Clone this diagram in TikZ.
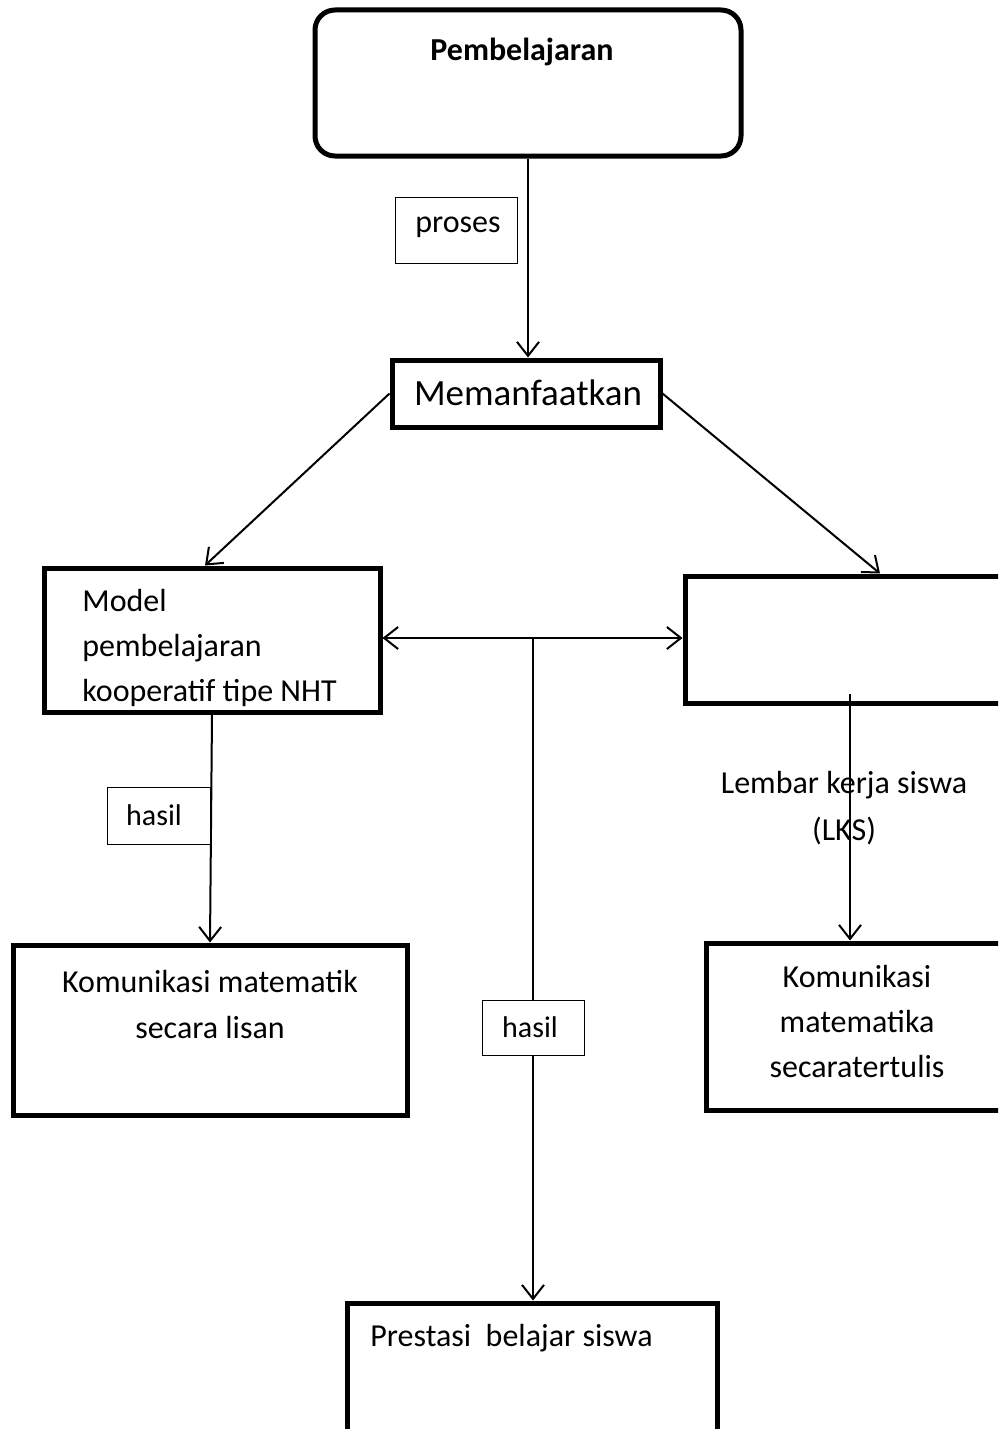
\documentclass[tikz,border=0pt]{standalone}
\usepackage{fontspec}
\setmainfont{Carlito}
\usetikzlibrary{arrows.meta}
\begin{document}
\begin{tikzpicture}[x=0.5pt,y=-0.5pt,
  thickbox/.style={draw,line width=2.5pt,inner sep=0pt},
  thinbox/.style={draw,line width=0.5pt,inner sep=0pt,fill=white},
  txt/.style={inner sep=0pt,font=\fontsize{16}{22.5}\selectfont},
  tip/.style={Straight Barb[length=7pt,width=11pt,line width=1pt]},
  arr/.style={line width=1pt,-{Straight Barb[length=7pt,width=11pt,line width=1pt]}}]
\useasboundingbox (0,0) rectangle (998,1429);
\clip (0,0) rectangle (998,1429);
% connector junction points
\coordinate (j) at (533,638);
\coordinate (lksStart) at (850,694);
% boxes
\node[thickbox,rounded corners=10pt,minimum width=213pt,minimum height=73pt] (top) at (528,83) {};
\node[thickbox,minimum width=134pt,minimum height=33.5pt] (mem) at (526,393.5) {};
\node[thickbox,minimum width=168pt,minimum height=72pt] (model) at (212,640) {};
\node[thickbox,minimum width=162.5pt,minimum height=63.5pt] (lks) at (847.5,639.5) {};
\node[thickbox,minimum width=197pt,minimum height=85pt] (lisan) at (210,1030) {};
\node[thickbox,minimum width=152pt,minimum height=83.5pt] (tulis) at (858,1026.5) {};
\node[thickbox,minimum width=185pt,minimum height=73.5pt] (pres) at (532,1376.5) {};
% connectors
\draw[arr] (top.south) -- (top.south |- mem.north);
\draw[arr] (mem.west) -- ([xshift=-3.5pt]model.north);
\draw[arr] (mem.east) -- ([xshift=16.25pt]lks.north);
\draw[line width=1pt,{Straight Barb[length=7pt,width=11pt,line width=1pt]}-{Straight Barb[length=7pt,width=11pt,line width=1pt]}] (model.east |- j) -- (lks.west |- j);
\draw[arr] (j) -- (j |- pres.north);
\draw[arr] (model.south) -- (lisan.north);
\draw[arr] (lksStart) -- (lksStart |- tulis.north);
% label boxes
\node[thinbox,minimum width=61pt,minimum height=33pt] (proses) at (456,230) {};
\node[thinbox,minimum width=51.5pt,minimum height=28.5pt] (hasilA) at (158.5,815.5) {};
\node[thinbox,minimum width=51pt,minimum height=27.5pt] (hasilB) at (533,1027.5) {};
% texts
\node[txt,font=\fontsize{16}{20}\selectfont\bfseries] (tPemb) at (522,52) {Pembelajaran};
\node[txt] (tProses) at (458,227) {proses};
\node[txt,font=\fontsize{18.5}{22}\selectfont] (tMem) at (528,393) {Memanfaatkan};
\node[txt,align=left,anchor=west] (tModel) at (82,648) {Model\\pembelajaran\\kooperatif tipe NHT};
\node[txt,align=center,font=\fontsize{16}{23.5}\selectfont] (tLKS) at (844,808) {Lembar kerja siswa\\(LKS)};
\node[txt,align=center,font=\fontsize{16}{23}\selectfont] (tLisan) at (210,1004) {Komunikasi matematik\\secara lisan};
\node[txt,align=center] (tTulis) at (857,1021) {Komunikasi\\matematika\\secaratertulis};
\node[txt,anchor=west] (tPres) at (370,1338) {Prestasi\ \ belajar siswa};
\node[txt,font=\fontsize{15}{18}\selectfont] (tHasilA) at (154,815) {hasil};
\node[txt,font=\fontsize{15}{18}\selectfont] (tHasilB) at (530,1027) {hasil};
\end{tikzpicture}
\end{document}
